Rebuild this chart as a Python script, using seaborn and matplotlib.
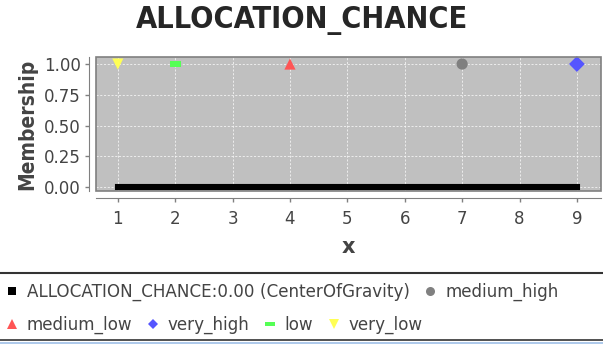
import matplotlib
matplotlib.use('Agg')
import matplotlib.pyplot as plt
from matplotlib.lines import Line2D
from matplotlib.patches import Rectangle
import seaborn as sns
import pandas as pd

# membership terms (peak points)
terms = ['very_low', 'low', 'medium_low', 'medium_high', 'very_high']
term_x = [1, 2, 4, 7, 9]
term_membership = [1.0, 1.0, 1.0, 1.0, 1.0]
term_colors = ['#ffff55', '#55ff55', '#ff5555', '#808080', '#5555ff']
term_markers = ['v', [(-1, -0.55), (1, -0.55), (1, 0.55), (-1, 0.55)], '^', 'o', 'D']

# defuzzified output series
output_x = [1, 9]
output_membership = [0.0, 0.0]
output_label = 'ALLOCATION_CHANCE:0.00 (CenterOfGravity)'

legend_row1 = [output_label, 'medium_high']
legend_row2 = ['medium_low', 'very_high', 'low', 'very_low']

sns.set_style('darkgrid', {'axes.facecolor': '#c0c0c0', 'grid.color': '#f4f4f4',
                           'grid.linestyle': (0, (2.5, 2)), 'axes.edgecolor': '#808080'})
plt.rcParams['font.family'] = ['DejaVu Sans']

fig = plt.figure(figsize=(6.03, 3.45), dpi=100)
ax = fig.add_axes([96 / 603, 1 - 191 / 345, 505 / 603, 134 / 345])

df = pd.DataFrame({'x': term_x, 'membership': term_membership, 'term': terms})
sns.scatterplot(data=df, x='x', y='membership', hue='term', style='term',
                palette=dict(zip(terms, term_colors)), markers=dict(zip(terms, term_markers)),
                s=65, linewidth=0, legend=False, ax=ax, zorder=3, clip_on=False)
out = pd.DataFrame({'x': output_x, 'membership': output_membership})
sns.lineplot(data=out, x='x', y='membership', color='black', linewidth=4.4,
             solid_capstyle='projecting', ax=ax, zorder=2)

ax.set_xlim(0.62, 9.42)
ax.set_ylim(-0.03, 1.057)
ax.set_xticks(range(1, 10))
ax.set_yticks([0, 0.25, 0.5, 0.75, 1.0])
ax.set_yticklabels(['0.00', '0.25', '0.50', '0.75', '1.00'])
ax.grid(True, linewidth=0.6)
ax.set_axisbelow(True)

# plot border box, axis lines offset outward
for s in ['top', 'right']:
    ax.spines[s].set_visible(False)
ax.spines['left'].set_position(('outward', 5))
ax.spines['bottom'].set_position(('outward', 5))
ax.spines['left'].set_color('#808080')
ax.spines['bottom'].set_color('#808080')
ax.add_patch(Rectangle((0, 0), 1, 1, transform=ax.transAxes, fill=False,
                       edgecolor='#808080', linewidth=1.2, clip_on=False, zorder=5))
ax.tick_params(axis='both', which='both', length=3, width=1, color='#808080',
               labelsize=12, labelcolor='#444444', bottom=True, left=True)
ax.tick_params(axis='x', pad=6)
ax.tick_params(axis='y', pad=3)

ax.set_xlabel('x', fontsize=15, fontweight='bold', color='#444444', labelpad=6)
ax.set_ylabel('Membership', fontsize=15, fontweight='bold', fontstretch='condensed',
              color='#444444', labelpad=5)
fig.suptitle('ALLOCATION_CHANCE', fontsize=22, fontweight='bold', fontstretch='condensed',
             y=1 - 6 / 345, va='top')

# legend rows
def handle(color, marker, ms=6):
    return Line2D([], [], color=color, marker=marker, linestyle='none', markersize=ms,
                  markeredgewidth=0)

h1 = [handle('black', 's', 6), handle('#808080', 'o', 6.5)]
h2 = [handle('#ff5555', '^', 7.5), handle('#5555ff', 'D', 5),
      handle('#55ff55', term_markers[1], 6.5), handle('#ffff55', 'v', 7.5)]
kw = dict(frameon=False, fontsize=12.1, labelcolor='#444444', handlelength=0.6,
          handletextpad=0.6, columnspacing=0.9, borderaxespad=0, loc='center left')
fig.legend(h1, legend_row1, ncol=2, bbox_to_anchor=(0.0, 1 - 292 / 345), **kw)
fig.legend(h2, legend_row2, ncol=4, bbox_to_anchor=(0.0, 1 - 325 / 345), **kw)

fig.add_artist(Line2D([0, 1], [1 - 273 / 345, 1 - 273 / 345], color='#333333', linewidth=1.5))
fig.add_artist(Line2D([0, 1], [1 - 340 / 345, 1 - 340 / 345], color='#333333', linewidth=1.2))
fig.add_artist(Line2D([0, 1], [1 - 343 / 345, 1 - 343 / 345], color='#a0c0e8', linewidth=1.2))

fig.savefig('out.png', dpi=100)
